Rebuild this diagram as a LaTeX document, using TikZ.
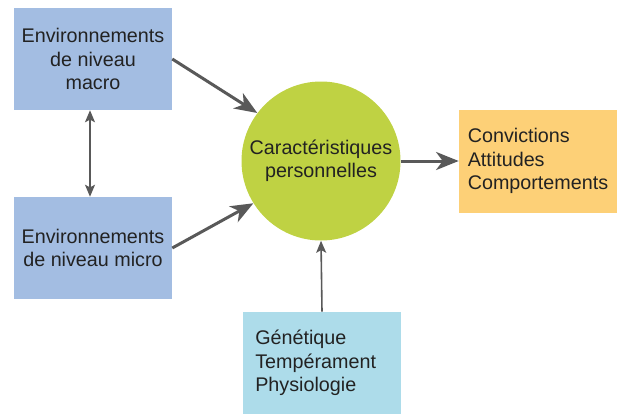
\documentclass[tikz,border=0pt]{standalone}
\usepackage{fontspec}
\setmainfont{Liberation Sans}
\usetikzlibrary{positioning, arrows.meta, shapes}
\definecolor{bleu}{HTML}{A3BDE2}
\definecolor{vert}{HTML}{BFD243}
\definecolor{orange}{HTML}{FDD077}
\definecolor{ciel}{HTML}{ADDCEA}
\definecolor{gris}{HTML}{595959}
\definecolor{texte}{HTML}{222222}
\tikzset{->, >={Stealth[length=17pt, width=13.5pt, inset=5pt]}, node distance=141.75pt,
  boite/.style={rectangle, minimum width=118.5pt, minimum height=76.5pt, inner sep=0pt, text=texte, font=\fontsize{14.8}{17.5}\selectfont},
  fleche/.style={draw=gris, line width=2.25pt},
  fine/.style={draw=gris, line width=1.2pt, >={Stealth[length=9pt, width=7.5pt, inset=2pt]}}}

\begin{document}
\begin{tikzpicture}[x=0.75pt, y=-0.75pt]
        \useasboundingbox (0,0) rectangle (617,414);
        \node[boite, fill=bleu, align=center] (macro) at (93,59) {Environnements\\de niveau\\macro};
        \node[boite, fill=bleu, align=center, below of=macro] (micro) {Environnements\\de niveau micro};
        \node[boite, circle, fill=vert, minimum size=119.25pt, align=center] (caracteristiques) at (321,161) {Caractéristiques\\personnelles};
        \node[boite, fill=orange, align=left, right of=caracteristiques, node distance=162.75pt, minimum height=77.25pt] (convictions) {Convictions\\Attitudes\\Comportements};
        \node[boite, fill=ciel, align=left, text width=100pt, inner xsep=9.25pt, below of=caracteristiques, node distance=151.5pt, xshift=0.75pt] (genetique) {Génétique\\Tempérament\\Physiologie};
        \draw[fleche] (macro.east) -- (caracteristiques.143);
        \draw[fleche] (micro.east) -- (caracteristiques.212);
        \draw[fleche] (caracteristiques.east) -- (convictions.west);
        \draw[fine] (genetique.north) -- (caracteristiques.south);
        \draw[fine, <->] ([xshift=-2.25pt]macro.south) -- ([xshift=-2.25pt]micro.north);
    \end{tikzpicture}
\end{document}
